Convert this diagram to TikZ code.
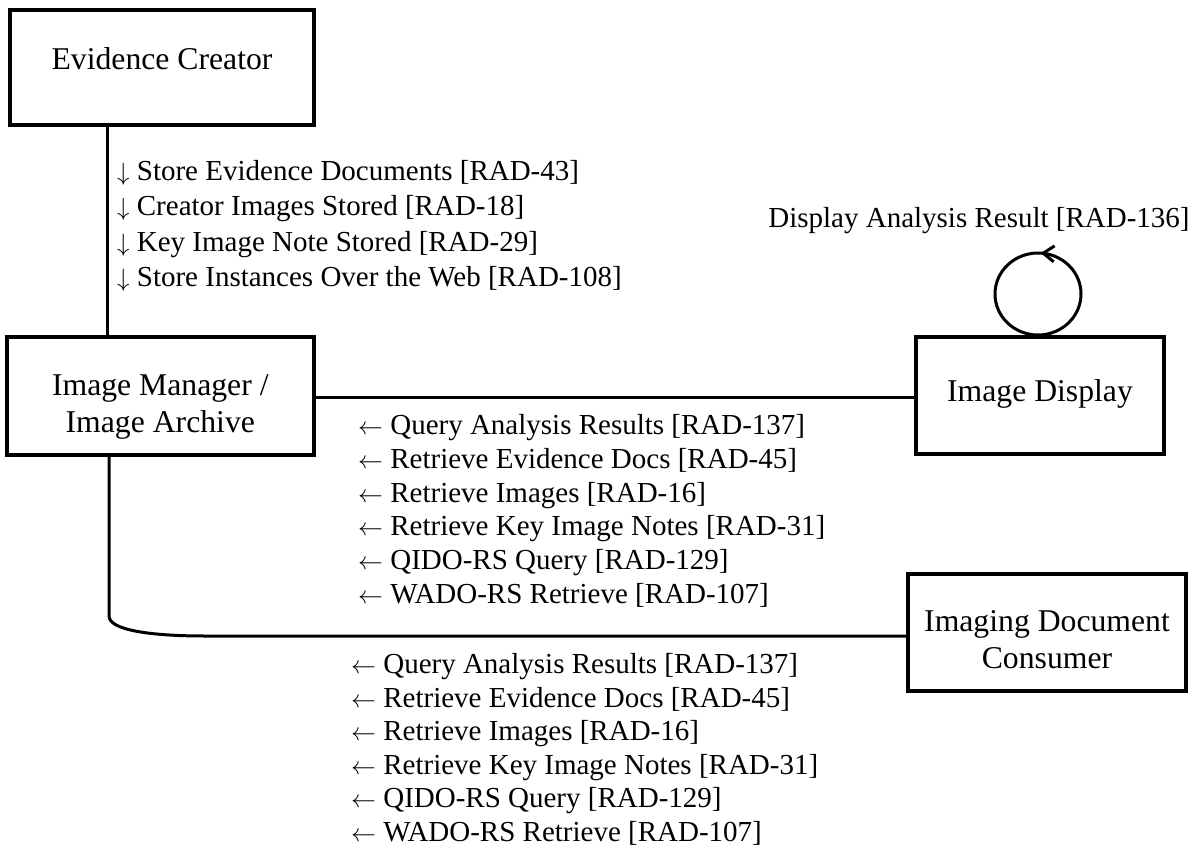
\documentclass[tikz,border=0pt]{standalone}
\usepackage{fontspec}
\setmainfont{Liberation Serif}
\usetikzlibrary{arrows.meta,decorations.markings,calc}
\begin{document}
\begin{tikzpicture}[x=1pt,y=-1pt,
  box/.style={draw, line width=4pt, rectangle, inner sep=0pt},
  boxtext/.style={font=\fontsize{31.7}{37}\selectfont, inner sep=0pt, anchor=base},
  lbl/.style={font=\fontsize{29}{34}\selectfont, inner sep=0pt, anchor=base west},
  conn/.style={line width=3pt}]
\useasboundingbox (0,0) rectangle (1202,848);

% boxes
\node[box, minimum width=304pt, minimum height=115pt] (ec) at (162,67.5) {};
\node[boxtext] (ect) at (162,70) {Evidence Creator};

\node[box, minimum width=307pt, minimum height=118pt] (im) at (160.3,396) {};
\node[boxtext] (imt1) at (160.3,395) {Image Manager /};
\node[boxtext] (imt2) at (160.3,432) {Image Archive};

\node[box, minimum width=248pt, minimum height=117pt] (id) at (1040,395.5) {};
\node[boxtext] (idt) at (1040,401.5) {Image Display};

\node[box, minimum width=278pt, minimum height=117pt] (idc) at (1047,632.5) {};
\node[boxtext] (idct1) at (1047,631) {Imaging Document};
\node[boxtext] (idct2) at (1047,668) {Consumer};

% helper coordinates
\coordinate (vx) at (107,0);
\coordinate (hy) at (0,397);
\coordinate (bx) at (109,0);
\coordinate (c1) at (109,616);
\coordinate (c2) at (205,636);
\coordinate (lx) at (1038,0);

% connectors
\draw[conn] (ec.south -| vx) -- (im.north -| vx);
\draw[conn] (im.east |- hy) -- (id.west |- hy);
\draw[conn] (im.south -| bx) -- (c1) .. controls (109,630) and (150,636) .. (c2) -- (idc.west |- c2);

% self loop on Image Display
\draw[conn, decoration={markings, mark=at position 0.49 with {\arrow{Straight Barb[length=11pt,width=16pt,line width=3pt]}}}, postaction=decorate]
  (id.north -| lx) arc[start angle=-90, end angle=270, x radius=43pt, y radius=41pt];
\node[lbl, anchor=base] (loopl) at (979,227.5) {Display Analysis Result [RAD-136]};

% labels EC -> IM
\foreach \t [count=\i] in {{Store Evidence Documents [RAD-43]},{Creator Images Stored [RAD-18]},{Key Image Note Stored [RAD-29]},{Store Instances Over the Web [RAD-108]}}
  \node[lbl] (dn\i) at (117,{180+35.5*(\i-1)}) {$\downarrow$ \t};

% labels IM <- ID
\foreach \t [count=\i] in {{Query Analysis Results [RAD-137]},{Retrieve Evidence Docs [RAD-45]},{Retrieve Images [RAD-16]},{Retrieve Key Image Notes [RAD-31]},{QIDO-RS Query [RAD-129]},{WADO-RS Retrieve [RAD-107]}}
  \node[lbl] (up\i) at (358,{434.5+33.8*(\i-1)}) {$\leftarrow$ \t};

% labels IM <- IDC
\foreach \t [count=\i] in {{Query Analysis Results [RAD-137]},{Retrieve Evidence Docs [RAD-45]},{Retrieve Images [RAD-16]},{Retrieve Key Image Notes [RAD-31]},{QIDO-RS Query [RAD-129]},{WADO-RS Retrieve [RAD-107]}}
  \node[lbl] (lo\i) at (351,{673.5+33.6*(\i-1)}) {$\leftarrow$ \t};
\end{tikzpicture}
\end{document}
